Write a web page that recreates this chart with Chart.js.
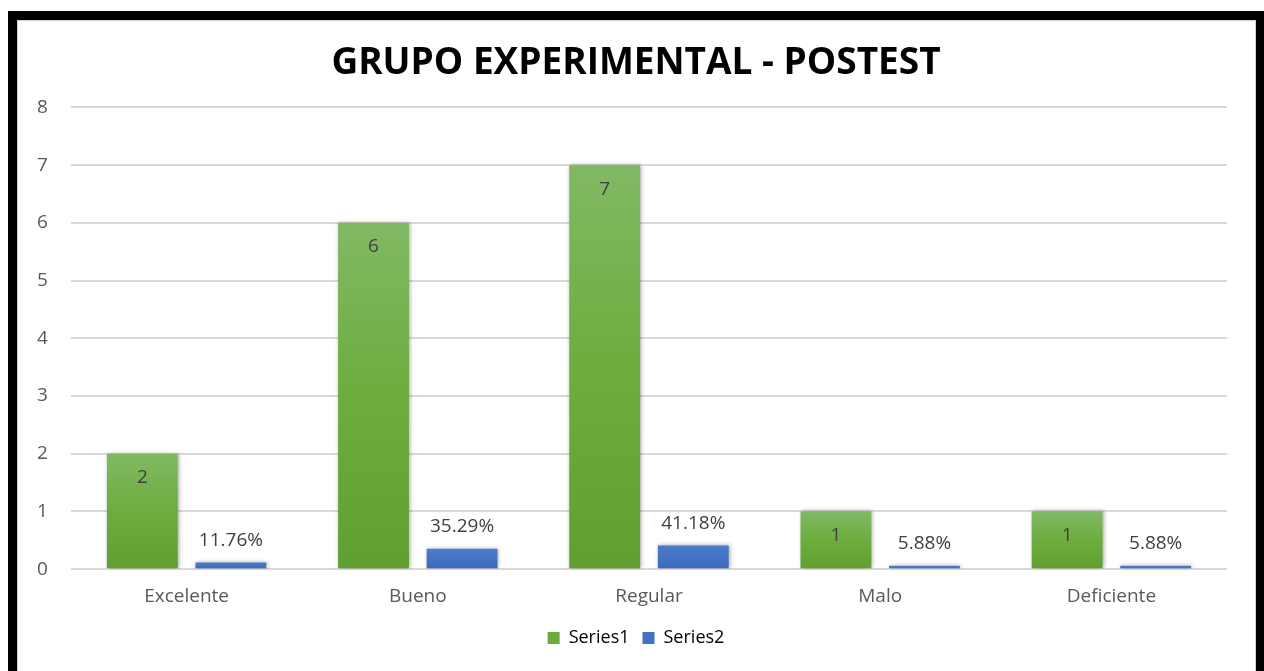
<!DOCTYPE html>
<html>
<head>
<meta charset="utf-8">
<script src="https://cdn.jsdelivr.net/npm/chart.js@4.4.0/dist/chart.umd.min.js"></script>
<style>
  html, body { margin: 0; padding: 0; background: #fff; overflow: hidden; }
  #wrap { position: absolute; left: 0; top: 0; width: 1264px; height: 671px; }
  #marco {
    position: absolute; left: 8px; top: 11px; width: 1239px; height: 680px;
    border: 9px solid #000; border-bottom: none; pointer-events: none;
  }
  #marco2 {
    position: absolute; left: 0; top: 0; right: 0; bottom: 0;
    border: 1px solid #d0d0d0; pointer-events: none;
  }
</style>
</head>
<body>
<div id="wrap">
  <canvas id="myChart" width="1264" height="671"></canvas>
  <div id="marco"><div id="marco2"></div></div>
</div>
<script>
// Datos del gráfico
const categorias = ['Excelente', 'Bueno', 'Regular', 'Malo', 'Deficiente'];
const serie1 = [2, 6, 7, 1, 1];
const serie2 = [0.1176, 0.3529, 0.4118, 0.0588, 0.0588];
const etiquetasSerie2 = ['11.76%', '35.29%', '41.18%', '5.88%', '5.88%'];
const ticksY = [0, 1, 2, 3, 4, 5, 6, 7, 8];

const fuente = "'Open Sans', 'DejaVu Sans', sans-serif";

// Degradado vertical para cada barra
function degradado(context, arriba, medio, abajo, fallback) {
  const chart = context.chart;
  if (!chart.chartArea || context.raw === undefined) return fallback;
  const y = chart.scales.y;
  const top = y.getPixelForValue(context.raw);
  const base = y.getPixelForValue(0);
  if (!isFinite(top) || base - top < 1) return fallback;
  const g = chart.ctx.createLinearGradient(0, top, 0, base);
  g.addColorStop(0, arriba);
  g.addColorStop(0.5, medio);
  g.addColorStop(1, abajo);
  return g;
}

// Sombra suave de las barras
const sombra = {
  id: 'sombra',
  beforeDatasetDraw(chart) {
    const ctx = chart.ctx;
    ctx.save();
    ctx.shadowColor = 'rgba(0,0,0,0.35)';
    ctx.shadowBlur = 4;
    ctx.shadowOffsetX = 1;
    ctx.shadowOffsetY = 0;
  },
  afterDatasetDraw(chart) {
    chart.ctx.restore();
  }
};

// Etiquetas de datos
const etiquetas = {
  id: 'etiquetas',
  afterDatasetsDraw(chart) {
    const ctx = chart.ctx;
    ctx.save();
    ctx.font = '19px ' + fuente;
    ctx.fillStyle = '#404040';
    ctx.textAlign = 'center';
    ctx.textBaseline = 'middle';
    chart.getDatasetMeta(0).data.forEach((bar, i) => {
      ctx.fillText(String(serie1[i]), bar.x, bar.y + 24);
    });
    chart.getDatasetMeta(1).data.forEach((bar, i) => {
      ctx.fillText(etiquetasSerie2[i], bar.x, bar.y - 22);
    });
    ctx.restore();
  }
};

const data = {
  labels: categorias,
  datasets: [{
    label: 'Series1',
    data: serie1,
    backgroundColor: ctx => degradado(ctx, '#81b963', '#6cad3e', '#60a030', '#6aab3c'),
    borderWidth: 0,
    categoryPercentage: 0.766,
    barPercentage: 0.8
  }, {
    label: 'Series2',
    data: serie2,
    backgroundColor: ctx => degradado(ctx, '#4d7ccc', '#4472c4', '#3a68bc', '#4472c4'),
    borderWidth: 0,
    categoryPercentage: 0.766,
    barPercentage: 0.8
  }]
};

const config = {
  type: 'bar',
  data: data,
  plugins: [sombra, etiquetas],
  options: {
    responsive: false,
    animation: false,
    layout: { padding: { top: 38, left: 45, right: 37, bottom: 14 } },
    plugins: {
      title: {
        display: true,
        text: 'GRUPO EXPERIMENTAL - POSTEST',
        color: '#000',
        font: { family: fuente, size: 37, weight: 'bold' },
        padding: { top: 3, bottom: 22 }
      },
      legend: {
        position: 'bottom',
        labels: {
          color: '#595959',
          font: { family: fuente, size: 18 },
          boxWidth: 12,
          boxHeight: 12,
          padding: 13,
          generateLabels(chart) {
            return [
              { text: 'Series1', fillStyle: '#6aab3c', strokeStyle: '#6aab3c', lineWidth: 0, datasetIndex: 0 },
              { text: 'Series2', fillStyle: '#4472c4', strokeStyle: '#4472c4', lineWidth: 0, datasetIndex: 1 }
            ];
          }
        }
      },
      tooltip: { enabled: false }
    },
    scales: {
      x: {
        grid: { display: false },
        border: { display: false },
        ticks: {
          color: '#595959',
          font: { family: fuente, size: 19 },
          padding: 8
        }
      },
      y: {
        min: 0,
        max: 8,
        afterBuildTicks(scale) {
          scale.ticks = ticksY.map(v => ({ value: v }));
        },
        afterFit(scale) { scale.width = 26; },
        grid: { color: '#d9d9d9', lineWidth: 2, drawTicks: false },
        border: { display: false },
        ticks: {
          color: '#595959',
          font: { family: fuente, size: 19 },
          mirror: true,
          padding: -34
        }
      }
    }
  }
};

const myChart = new Chart(document.getElementById('myChart'), config);
</script>
</body>
</html>
